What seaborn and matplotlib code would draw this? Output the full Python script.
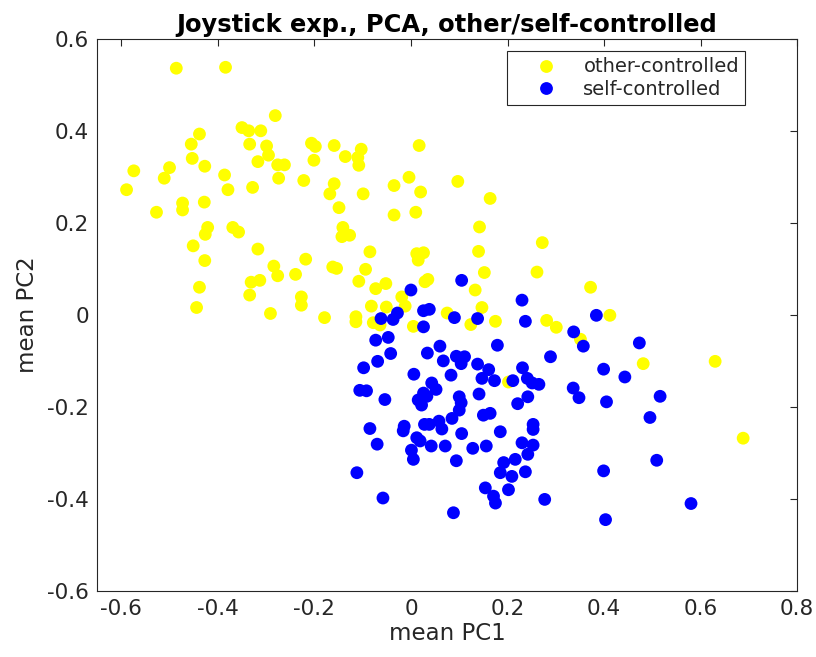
import numpy as np
import pandas as pd
import matplotlib
matplotlib.use("Agg")
import matplotlib.pyplot as plt
import seaborn as sns

# Mean principal-component scores per trial group
other_pc1 = [-0.486, -0.384, -0.281, -0.350, -0.336, -0.311, -0.438, -0.455, -0.334, -0.299,
             -0.453, -0.295, -0.317, -0.574, -0.500, -0.427, -0.511, -0.386, -0.589, -0.379,
             -0.328, -0.473, -0.473, -0.428, -0.527,
             -0.206, -0.198, -0.159, -0.103, 0.017, -0.136, -0.110, -0.108, -0.201, -0.276,
             -0.262, -0.274, -0.222, -0.159, -0.168, -0.099, -0.035, -0.004, 0.020, -0.035,
             0.010, -0.149,
             0.097, 0.164, 0.142,
             -0.421, -0.426, -0.369, -0.357, -0.451, -0.317, -0.427, -0.284, -0.276, -0.438,
             -0.331, -0.313, -0.334, -0.444, -0.291,
             -0.141, -0.143, -0.127, -0.085, 0.012, 0.026, 0.015, -0.218, -0.239, -0.162,
             -0.154, -0.094, -0.108, 0.035, 0.029, -0.073, -0.052, -0.019, -0.012, -0.227,
             -0.227, -0.179, -0.114, -0.114, -0.082, -0.051, -0.078, -0.064, 0.005,
             0.272, 0.140, 0.261, 0.152, 0.133, 0.372, 0.147, 0.075, 0.124, 0.175,
             0.281, 0.301, 0.412, 0.351, 0.202,
             0.481, 0.630, 0.688]
other_pc2 = [0.536, 0.538, 0.433, 0.407, 0.400, 0.400, 0.393, 0.371, 0.371, 0.367,
             0.340, 0.347, 0.333, 0.313, 0.320, 0.323, 0.297, 0.304, 0.272, 0.272,
             0.277, 0.243, 0.228, 0.245, 0.223,
             0.373, 0.366, 0.368, 0.360, 0.368, 0.344, 0.342, 0.325, 0.336, 0.326,
             0.326, 0.297, 0.292, 0.285, 0.263, 0.263, 0.281, 0.299, 0.267, 0.217,
             0.223, 0.233,
             0.290, 0.253, 0.191,
             0.190, 0.175, 0.190, 0.180, 0.150, 0.143, 0.118, 0.106, 0.085, 0.060,
             0.071, 0.075, 0.043, 0.016, 0.003,
             0.190, 0.170, 0.173, 0.137, 0.133, 0.135, 0.119, 0.121, 0.088, 0.104,
             0.101, 0.099, 0.073, 0.077, 0.072, 0.057, 0.068, 0.039, 0.019, 0.039,
             0.021, -0.006, -0.004, -0.015, 0.019, 0.017, -0.017, -0.022, -0.025,
             0.157, 0.138, 0.093, 0.092, 0.054, 0.060, 0.016, 0.004, -0.021, -0.014,
             -0.012, -0.027, -0.001, -0.053, -0.146,
             -0.106, -0.101, -0.268]

self_pc1 = [0.000, 0.026, 0.038, -0.028, -0.037, -0.062, 0.026, -0.073, -0.047, 0.060,
            0.034, -0.042, -0.069, 0.067, -0.098, 0.006, 0.043, 0.052, -0.106, -0.092,
            -0.054, 0.026, 0.015, 0.033, 0.022, 0.083,
            0.105, 0.230, 0.090, 0.138, 0.237, 0.384, 0.337, 0.357, 0.179, 0.289,
            0.094, 0.111, 0.104, 0.138, 0.161, 0.231, 0.147, 0.173, 0.211, 0.241,
            0.251, 0.265, 0.399, 0.336, 0.348, 0.405, 0.100, 0.104, 0.141, 0.242,
            0.221, 0.164,
            0.473, 0.443, 0.516, 0.495, 0.509, 0.580,
            0.100, 0.150, 0.085, 0.058, 0.064, 0.105, 0.185, 0.253, 0.253, 0.071,
            0.128, 0.156, 0.230, 0.253, 0.242, 0.094, 0.192, 0.216, 0.185, 0.209,
            0.237, 0.399, 0.154, 0.202, 0.171, 0.175, 0.277, 0.088, 0.403,
            -0.085, -0.014, -0.016, 0.028, 0.038, 0.012, 0.019, -0.070, 0.042, 0.001,
            0.005, -0.112, -0.058]
self_pc2 = [0.054, 0.009, 0.012, 0.004, -0.010, -0.008, -0.026, -0.055, -0.049, -0.068,
            -0.083, -0.084, -0.101, -0.100, -0.115, -0.129, -0.148, -0.162, -0.164, -0.165,
            -0.184, -0.170, -0.185, -0.177, -0.196, -0.131,
            0.075, 0.032, -0.006, -0.008, -0.014, -0.001, -0.037, -0.068, -0.066, -0.091,
            -0.090, -0.091, -0.106, -0.107, -0.119, -0.115, -0.138, -0.143, -0.143, -0.138,
            -0.148, -0.151, -0.118, -0.159, -0.180, -0.189, -0.178, -0.191, -0.172, -0.178,
            -0.193, -0.214,
            -0.061, -0.135, -0.177, -0.223, -0.316, -0.410,
            -0.207, -0.218, -0.225, -0.231, -0.248, -0.258, -0.254, -0.238, -0.249, -0.285,
            -0.290, -0.285, -0.278, -0.283, -0.303, -0.317, -0.321, -0.314, -0.343, -0.351,
            -0.341, -0.339, -0.376, -0.380, -0.394, -0.409, -0.401, -0.430, -0.445,
            -0.247, -0.242, -0.252, -0.238, -0.238, -0.267, -0.274, -0.281, -0.285, -0.294,
            -0.314, -0.343, -0.398]

groups = ["other-controlled", "self-controlled"]
group_colors = ["#ffff00", "#0000ff"]

x_ticks = [-0.6, -0.4, -0.2, 0, 0.2, 0.4, 0.6, 0.8]
x_tick_labels = ["-0.6", "-0.4", "-0.2", "0", "0.2", "0.4", "0.6", "0.8"]
y_ticks = [-0.6, -0.4, -0.2, 0, 0.2, 0.4, 0.6]
y_tick_labels = ["-0.6", "-0.4", "-0.2", "0", "0.2", "0.4", "0.6"]

df = pd.DataFrame({
    "pc1": other_pc1 + self_pc1,
    "pc2": other_pc2 + self_pc2,
    "group": [groups[0]] * len(other_pc1) + [groups[1]] * len(self_pc1),
})

sns.set_style("white")
plt.rcParams["font.family"] = ["DejaVu Sans"]
dark = "#262626"

fig = plt.figure(figsize=(8.16, 6.57), dpi=100)
ax = fig.add_axes([0.119, 0.1005, 0.858, 0.8405])

sns.scatterplot(data=df, x="pc1", y="pc2", hue="group", hue_order=groups,
                palette=group_colors, s=85, linewidth=0, ax=ax)

ax.set_xlim(-0.65, 0.8)
ax.set_ylim(-0.6, 0.6)
ax.set_xticks(x_ticks)
ax.set_xticklabels(x_tick_labels)
ax.set_yticks(y_ticks)
ax.set_yticklabels(y_tick_labels)
ax.tick_params(direction="in", length=5, width=0.8, colors=dark,
               labelsize=15.5, top=True, right=True, pad=6)
for side in ax.spines.values():
    side.set_color(dark)
    side.set_linewidth(0.8)

ax.set_xlabel("mean PC1", fontsize=16.5, color=dark, labelpad=2)
ax.set_ylabel("mean PC2", fontsize=16.5, color=dark, labelpad=6)
ax.set_title("Joystick exp., PCA, other/self-controlled", fontsize=17.4,
             fontweight="bold", color="black", pad=5)

leg = ax.legend(loc="upper right", bbox_to_anchor=(0.926, 0.978),
                borderaxespad=0, fontsize=14, frameon=True, fancybox=False,
                framealpha=1, edgecolor=dark, markerscale=1.0,
                handletextpad=0.2, borderpad=0.33, labelspacing=0.18,
                handlelength=3.4)
leg.get_frame().set_linewidth(0.8)
for t in leg.get_texts():
    t.set_color(dark)

fig.savefig("out.png", dpi=100)
